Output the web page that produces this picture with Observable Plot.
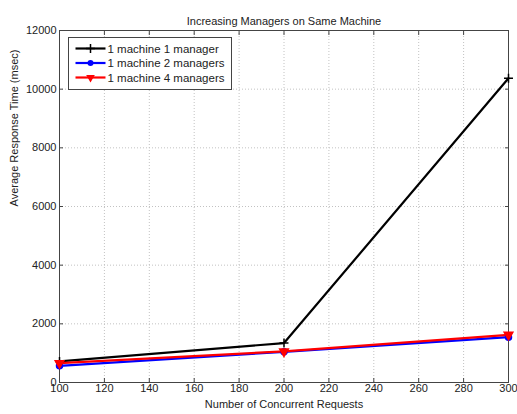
<!DOCTYPE html>
<html>
<head>
<meta charset="utf-8">
<script src="https://cdn.jsdelivr.net/npm/d3@7"></script>
<script src="https://cdn.jsdelivr.net/npm/@observablehq/plot@0.6"></script>
<style>
  html, body { margin: 0; padding: 0; background: #fff; }
  #chart { position: relative; width: 517px; height: 414px; }
</style>
</head>
<body>
<div id="chart"></div>
<script>
const title = "Increasing Managers on Same Machine";
const xLabel = "Number of Concurrent Requests";
const yLabel = "Average Response Time (msec)";
const requests = [100, 200, 300];
const seriesNames = ["1 machine 1 manager", "1 machine 2 managers", "1 machine 4 managers"];
const oneManager = [720, 1345, 10370];
const twoManagers = [570, 1045, 1545];
const fourManagers = [660, 1060, 1625];
const xTicks = [100, 120, 140, 160, 180, 200, 220, 240, 260, 280, 300];
const yTicks = [0, 2000, 4000, 6000, 8000, 10000, 12000];
const colors = ["#000000", "#0000ff", "#ff0000"];

const triangleDown = {
  draw(context, size) {
    const y = -Math.sqrt(size / (Math.sqrt(3) * 3));
    context.moveTo(0, -y * 2);
    context.lineTo(-Math.sqrt(3) * y, y);
    context.lineTo(Math.sqrt(3) * y, y);
    context.closePath();
  }
};

const valuesList = [oneManager, twoManagers, fourManagers];
const series = seriesNames.map((name, i) => ({
  name, color: colors[i],
  data: requests.map((x, j) => ({x, y: valuesList[i][j], name}))
}));

const font = "'Liberation Sans', Arial, Helvetica, sans-serif";
const gridStyle = {stroke: "#c2c2c2", strokeOpacity: 1, strokeWidth: 1, strokeDasharray: "1,2"};

const marks = [
  Plot.ruleX(xTicks, {...gridStyle}),
  Plot.ruleY(yTicks, {...gridStyle}),
  Plot.frame({stroke: "#444", strokeWidth: 1}),
  Plot.axisX(xTicks, {anchor: "bottom", tickSize: -4, text: null, stroke: "#444"}),
  Plot.axisX(xTicks, {anchor: "top", tickSize: -4, text: null, stroke: "#444"}),
  Plot.axisY(yTicks, {anchor: "left", tickSize: -4, text: null, stroke: "#444"}),
  Plot.axisY(yTicks, {anchor: "right", tickSize: -4, text: null, stroke: "#444"}),
  Plot.axisX(xTicks, {anchor: "bottom", tickSize: 0, tickPadding: 2, tickFormat: "d", label: null, fill: "#222", fontSize: 11}),
  Plot.axisY(yTicks, {anchor: "left", tickSize: 0, tickPadding: 3, tickFormat: "d", label: null, fill: "#222", fontSize: 11}),
  Plot.text([title], {frameAnchor: "top", dy: -13, fontSize: 11, fill: "#222"}),
  Plot.text([xLabel], {frameAnchor: "bottom", dy: 25, fontSize: 11, fill: "#222"}),
  Plot.text([yLabel], {frameAnchor: "left", dx: -45, rotate: -90, fontSize: 11, fill: "#222"})
];

series.forEach((s) => {
  marks.push(Plot.line(s.data, {x: "x", y: "y", stroke: s.color, strokeWidth: 2.2}));
});
marks.push(Plot.dot(series[0].data, {x: "x", y: "y", symbol: "plus", r: 3, stroke: colors[0], strokeWidth: 1.5}));
marks.push(Plot.dot(series[1].data, {x: "x", y: "y", symbol: "circle", r: 3, fill: colors[1], stroke: colors[1]}));
marks.push(Plot.dot(series[2].data, {x: "x", y: "y", symbol: triangleDown, r: 3.2, fill: colors[2], stroke: colors[2]}));

const plot = Plot.plot({
  width: 517,
  height: 414,
  marginLeft: 59,
  marginRight: 9,
  marginTop: 30,
  marginBottom: 32,
  style: {fontFamily: font, fontSize: "11px", background: "#fff"},
  x: {domain: [100, 300], label: null},
  y: {domain: [0, 12000], label: null},
  marks
});
document.getElementById("chart").appendChild(plot);

// Legend (inside plot, upper left)
const svg = d3.select(plot);
const lg = svg.append("g").attr("transform", "translate(68.5,37.5)")
  .style("font-family", font).style("font-size", "11.5px").attr("text-anchor", "start");
lg.append("rect").attr("width", 163).attr("height", 52).attr("fill", "#fff").attr("stroke", "#444");
series.forEach((s, i) => {
  const g = lg.append("g").attr("transform", `translate(0,${11 + i * 14.5})`);
  g.append("line").attr("x1", 7).attr("x2", 37).attr("stroke", s.color).attr("stroke-width", 2.2);
  const sym = i === 0 ? d3.symbolPlus : i === 1 ? d3.symbolCircle : triangleDown;
  const p = g.append("path").attr("transform", "translate(22,0)").attr("d", d3.symbol(sym, i === 2 ? 32 : 28)());
  if (i === 0) p.attr("fill", "none").attr("stroke", s.color).attr("stroke-width", 1.5);
  else p.attr("fill", s.color);
  g.append("text").attr("x", 39).attr("dy", "0.35em").attr("text-anchor", "start").attr("fill", "#222").text(s.name);
});
</script>
</body>
</html>
